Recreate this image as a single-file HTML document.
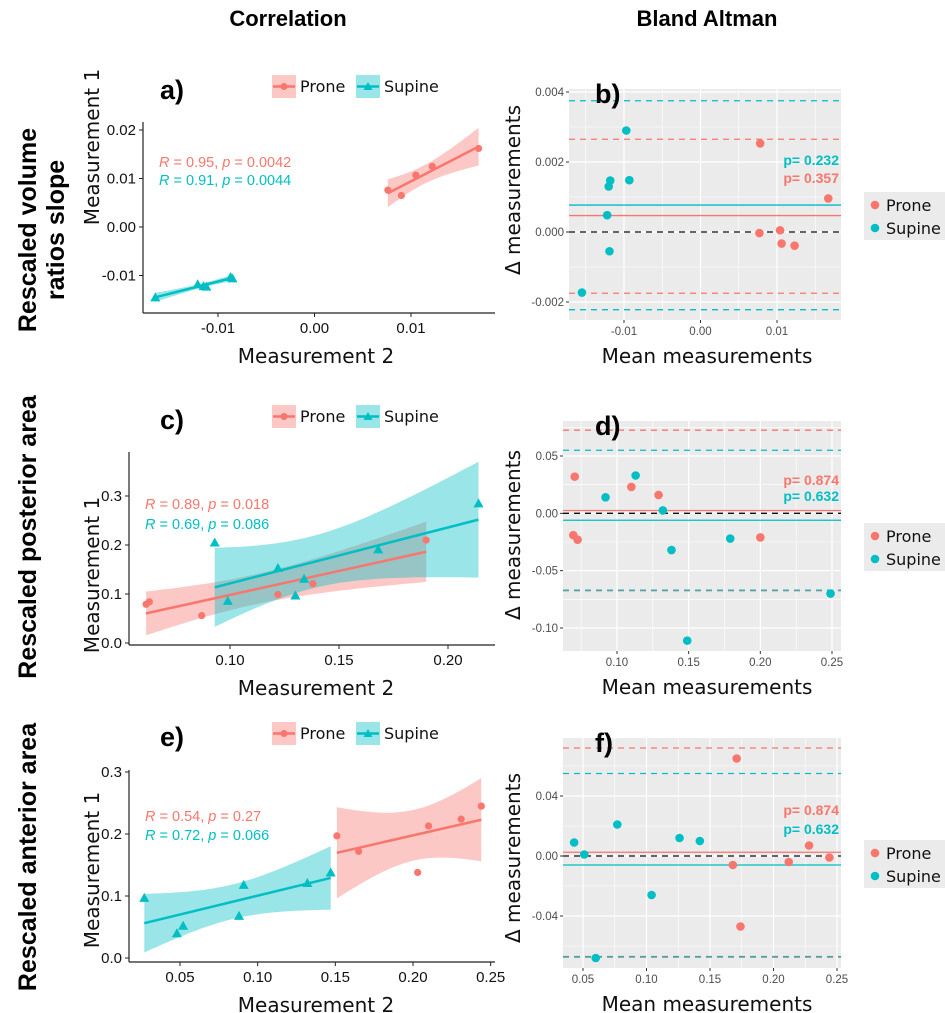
<!DOCTYPE html>
<html><head><meta charset="utf-8"><style>
html,body{margin:0;padding:0;background:#fff}
svg{display:block;font-family:"Liberation Sans","DejaVu Sans",sans-serif}
.dv{font-family:"DejaVu Sans","Liberation Sans",sans-serif}
</style></head><body>
<svg id="fig" width="945" height="1013" viewBox="0 0 945 1013" xmlns="http://www.w3.org/2000/svg">
<text x="288" y="26" font-size="22" font-weight="bold" text-anchor="middle">Correlation</text>
<text x="707" y="26" font-size="22" font-weight="bold" text-anchor="middle">Bland Altman</text>
<text transform="translate(36,230) rotate(-90)" font-size="25" font-weight="bold" text-anchor="middle">Rescaled volume</text>
<text transform="translate(64,230) rotate(-90)" font-size="25" font-weight="bold" text-anchor="middle">ratios slope</text>
<text transform="translate(36,537) rotate(-90)" font-size="25" font-weight="bold" text-anchor="middle">Rescaled posterior area</text>
<text transform="translate(36,857) rotate(-90)" font-size="25" font-weight="bold" text-anchor="middle">Rescaled anterior area</text>
</svg>
<script>
// ---------- DATA ----------
const aProneX=[0.0076,0.0090,0.0105,0.0122,0.0170];
const aProneY=[0.0076,0.0065,0.0107,0.0125,0.0162];
const aSupX=[-0.0165,-0.0121,-0.0115,-0.0112,-0.0087,-0.0085];
const aSupY=[-0.0145,-0.0118,-0.0122,-0.0123,-0.0103,-0.0106];
const cProneX=[0.0615,0.063,0.087,0.122,0.138,0.190];
const cProneY=[0.079,0.084,0.056,0.099,0.121,0.210];
const cSupX=[0.093,0.099,0.122,0.130,0.134,0.168,0.214];
const cSupY=[0.205,0.086,0.153,0.097,0.131,0.191,0.285];
const eProneX=[0.151,0.165,0.203,0.210,0.231,0.244];
const eProneY=[0.197,0.172,0.138,0.213,0.224,0.245];
const eSupX=[0.027,0.048,0.052,0.088,0.091,0.132,0.147];
const eSupY=[0.097,0.040,0.052,0.068,0.118,0.121,0.138];
const bProneX=[0.0077,0.0078,0.0104,0.0106,0.0123,0.0167];
const bProneY=[-0.00003,0.00253,0.00005,-0.00033,-0.00039,0.00096];
const bSupX=[-0.0155,-0.0122,-0.0119,-0.0120,-0.0118,-0.0097,-0.0093];
const bSupY=[-0.00173,0.00048,-0.00055,0.00130,0.00147,0.00290,0.00148];
const bLines=[0.00375,0.00265,0.00077,0.00047,-0.00175,-0.00222];
const dProneX=[0.0705,0.0695,0.0725,0.110,0.129,0.200];
const dProneY=[0.032,-0.019,-0.023,0.023,0.016,-0.021];
const dSupX=[0.092,0.113,0.132,0.138,0.149,0.179,0.249];
const dSupY=[0.014,0.033,0.0025,-0.032,-0.111,-0.022,-0.070];
const dLines=[0.0725,0.055,0.0025,-0.006,-0.0675,-0.067];
const fProneX=[0.171,0.168,0.174,0.212,0.228,0.244];
const fProneY=[0.065,-0.006,-0.047,-0.004,0.007,-0.001];
const fSupX=[0.043,0.051,0.060,0.077,0.104,0.126,0.142];
const fSupY=[0.009,0.001,-0.068,0.021,-0.026,0.012,0.010];
const fLines=[0.072,0.055,0.0025,-0.006,-0.0675,-0.067];
const aXTicks=[-0.01,0,0.01], aXLab=["-0.01","0.00","0.01"];
const aYTicks=[-0.01,0,0.01,0.02], aYLab=["-0.01","0.00","0.01","0.02"];
const cXTicks=[0.10,0.15,0.20], cXLab=["0.10","0.15","0.20"];
const cYTicks=[0,0.1,0.2,0.3], cYLab=["0.0","0.1","0.2","0.3"];
const eXTicks=[0.05,0.10,0.15,0.20,0.25], eXLab=["0.05","0.10","0.15","0.20","0.25"];
const eYTicks=[0,0.1,0.2,0.3], eYLab=["0.0","0.1","0.2","0.3"];
const bXTicks=[-0.01,0,0.01], bXLab=["-0.01","0.00","0.01"];
const bYTicks=[-0.002,0,0.002,0.004], bYLab=["-0.002","0.000","0.002","0.004"];
const dXTicks=[0.10,0.15,0.20,0.25], dXLab=["0.10","0.15","0.20","0.25"];
const dYTicks=[-0.10,-0.05,0,0.05], dYLab=["-0.10","-0.05","0.00","0.05"];
const fXTicks=[0.05,0.10,0.15,0.20,0.25], fXLab=["0.05","0.10","0.15","0.20","0.25"];
const fYTicks=[-0.04,0,0.04], fYLab=["-0.04","0.00","0.04"];

const RED="#F8766D", CY="#00BFC4";
const svg=document.getElementById('fig');
const NS="http://www.w3.org/2000/svg";
function mk(tag,attrs,parent){const e=document.createElementNS(NS,tag);for(const k in attrs)e.setAttribute(k,attrs[k]);(parent||svg).appendChild(e);return e;}
function lin(d0,d1,p0,p1){return v=>p0+(v-d0)*(p1-p0)/(d1-d0);}
function tval(df){return [0,12.706,4.303,3.182,2.776,2.571,2.447,2.365][df]||2.3;}
function fit(X,Y){const n=X.length;const mx=X.reduce((a,b)=>a+b)/n,my=Y.reduce((a,b)=>a+b)/n;let sxx=0,sxy=0;for(let i=0;i<n;i++){sxx+=(X[i]-mx)**2;sxy+=(X[i]-mx)*(Y[i]-my);}const b=sxy/sxx,a=my-b*mx;let sse=0;for(let i=0;i<n;i++)sse+=(Y[i]-a-b*X[i])**2;const s=Math.sqrt(sse/(n-2));return{a,b,mx,sxx,s,n,t:tval(n-2)};}

function corrPanel(id,xs,ys,box,xT,xL,yT,yL,series,ann,ylabY){
  const g=mk('g',{});
  
  
  series.forEach(s=>{
    const f=fit(s.x,s.y);const x0=Math.min(...s.x),x1=Math.max(...s.x);const N=40;let up=[],lo=[];
    for(let i=0;i<=N;i++){const x=x0+(x1-x0)*i/N;const yh=f.a+f.b*x;const se=f.s*Math.sqrt(1/f.n+(x-f.mx)**2/f.sxx);up.push(xs(x).toFixed(1)+','+ys(yh+f.t*se).toFixed(1));lo.unshift(xs(x).toFixed(1)+','+ys(yh-f.t*se).toFixed(1));}
    const band=mk('polygon',{points:up.concat(lo).join(' '),fill:s.c,'fill-opacity':0.4},g);
    
    
  });
  series.forEach(s=>{
    const f=fit(s.x,s.y);const x0=Math.min(...s.x),x1=Math.max(...s.x);
    const ln=mk('line',{x1:xs(x0),y1:ys(f.a+f.b*x0),x2:xs(x1),y2:ys(f.a+f.b*x1),stroke:s.c,'stroke-width':2.5},g);
    
    
    s.x.forEach((v,i)=>{let m;const px=xs(v),py=ys(s.y[i]);
      if(s.tri){m=mk('polygon',{points:`${px},${py-5} ${px-5},${py+4} ${px+5},${py+4}`,fill:s.c},g);}
      else{m=mk('circle',{cx:px,cy:py,r:3.6,fill:s.c},g);}
      
      
    });
  });
  mk('line',{x1:box.l,y1:box.t,x2:box.l,y2:box.b,stroke:'#222','stroke-width':1.2},g);
  mk('line',{x1:box.l,y1:box.b,x2:box.r,y2:box.b,stroke:'#222','stroke-width':1.2},g);
  xT.forEach((v,i)=>{mk('line',{x1:xs(v),y1:box.b,x2:xs(v),y2:box.b+4,stroke:'#222'},g);const t=mk('text',{x:xs(v),y:box.b+20,'font-size':15,'text-anchor':'middle',fill:'#111'},g);t.textContent=xL[i];});
  yT.forEach((v,i)=>{mk('line',{x1:box.l-4,y1:ys(v),x2:box.l,y2:ys(v),stroke:'#222'},g);const t=mk('text',{x:box.l-7,y:ys(v)+5,'font-size':15,'text-anchor':'end',fill:'#111'},g);t.textContent=yL[i];});
  const xt=mk('text',{x:316,y:box.b+50,'font-size':20,'text-anchor':'middle',fill:'#111',class:'dv'},g);xt.textContent='Measurement 2';
  
  const yt=mk('text',{transform:`translate(99,${ylabY}) rotate(-90)`,'font-size':20,'text-anchor':'middle',fill:'#111',class:'dv'},g);yt.textContent='Measurement 1';
  
  ann.forEach(a=>{const t=mk('text',{x:a.x,y:a.y,'font-size':14.5,fill:a.c},g);t.innerHTML=`<tspan font-style="italic">R</tspan> = ${a.r}, <tspan font-style="italic">p</tspan> = ${a.p}`;});
  const ly=box.legY;
  const lg=mk('g',{},g);
  mk('rect',{x:272,y:ly,width:24,height:23,fill:RED,'fill-opacity':0.4},lg);
  mk('line',{x1:273,y1:ly+11.5,x2:295,y2:ly+11.5,stroke:RED,'stroke-width':2.5},lg);
  mk('circle',{cx:284,cy:ly+11.5,r:3.5,fill:RED},lg);
  const t1=mk('text',{x:300,y:ly+17,'font-size':16,fill:'#111',class:'dv'},lg);t1.textContent='Prone';
  mk('rect',{x:356,y:ly,width:24,height:23,fill:CY,'fill-opacity':0.4},lg);
  mk('line',{x1:357,y1:ly+11.5,x2:379,y2:ly+11.5,stroke:CY,'stroke-width':2.5},lg);
  mk('polygon',{points:`368,${ly+7} 363.5,${ly+15} 372.5,${ly+15}`,fill:CY},lg);
  const t2=mk('text',{x:384,y:ly+17,'font-size':16,fill:'#111',class:'dv'},lg);t2.textContent='Supine';
  const pl=mk('text',{x:160,y:ly+24,'font-size':27,'font-weight':'bold',fill:'#000'},g);pl.textContent=id+')';
  
}

function baPanel(id,xs,ys,box,xT,xL,yT,yL,series,lines,pvals,legY,ylabY){
  const g=mk('g',{});
  
  
  mk('rect',{x:box.l,y:box.t,width:box.r-box.l,height:box.b-box.t,fill:'#EBEBEB'},g);
  const minor=(T)=>{const r=[];for(let i=0;i<T.length-1;i++)r.push((T[i]+T[i+1])/2);const d=T[1]-T[0];r.push(T[0]-d/2,T[T.length-1]+d/2);return r;};
  minor(xT).forEach(v=>{const p=xs(v);if(p>box.l&&p<box.r)mk('line',{x1:p,y1:box.t,x2:p,y2:box.b,stroke:'#fff','stroke-width':0.6},g);});
  minor(yT).forEach(v=>{const p=ys(v);if(p>box.t&&p<box.b)mk('line',{x1:box.l,y1:p,x2:box.r,y2:p,stroke:'#fff','stroke-width':0.6},g);});
  xT.forEach(v=>mk('line',{x1:xs(v),y1:box.t,x2:xs(v),y2:box.b,stroke:'#fff','stroke-width':1.2},g));
  yT.forEach(v=>mk('line',{x1:box.l,y1:ys(v),x2:box.r,y2:ys(v),stroke:'#fff','stroke-width':1.2},g));
  lines.forEach((v,i)=>{const ln=mk('line',{x1:box.l,y1:ys(v.v),x2:box.r,y2:ys(v.v),stroke:v.c,'stroke-width':1.3,'stroke-dasharray':v.d?'6,5':'none'},g);
    });
  const zl=mk('line',{x1:box.l,y1:ys(0),x2:box.r,y2:ys(0),stroke:'#111','stroke-width':1.3,'stroke-dasharray':'6,5'},g);
  
  series.forEach(s=>s.x.forEach((v,i)=>{const c=mk('circle',{cx:xs(v),cy:ys(s.y[i]),r:4.3,fill:s.c},g);
    }));
  xT.forEach((v,i)=>{mk('line',{x1:xs(v),y1:box.b,x2:xs(v),y2:box.b+3,stroke:'#333'},g);const t=mk('text',{x:xs(v),y:box.b+15,'font-size':11.5,'text-anchor':'middle',fill:'#4d4d4d'},g);t.textContent=xL[i];});
  yT.forEach((v,i)=>{mk('line',{x1:box.l-3,y1:ys(v),x2:box.l,y2:ys(v),stroke:'#333'},g);const t=mk('text',{x:box.l-5,y:ys(v)+4,'font-size':11.5,'text-anchor':'end',fill:'#4d4d4d'},g);t.textContent=yL[i];});
  pvals.forEach(p=>{const t=mk('text',{x:box.r-2,y:p.y,'font-size':14,'font-weight':'bold','text-anchor':'end',fill:p.c},g);t.textContent=p.t;});
  const xt=mk('text',{x:707,y:box.b+43,'font-size':20,'text-anchor':'middle',fill:'#111',class:'dv'},g);xt.textContent='Mean measurements';
  
  const yt=mk('text',{transform:`translate(520,${ylabY}) rotate(-90)`,'font-size':20,'text-anchor':'middle',fill:'#111',class:'dv'},g);yt.textContent='Δ measurements';
  
  const lg=mk('g',{},g);
  mk('rect',{x:864,y:legY,width:81,height:48,fill:'#EBEBEB'},lg);
  mk('circle',{cx:875,cy:legY+13,r:4.3,fill:RED},lg);
  mk('circle',{cx:875,cy:legY+36,r:4.3,fill:CY},lg);
  const a=mk('text',{x:886,y:legY+19,'font-size':16,fill:'#111',class:'dv'},lg);a.textContent='Prone';
  const b=mk('text',{x:886,y:legY+42,'font-size':16,fill:'#111',class:'dv'},lg);b.textContent='Supine';
  const pl=mk('text',{x:595,y:box.t+14,'font-size':27,'font-weight':'bold',fill:'#000'},g);pl.textContent=id+')';
  
}
function L(v,c,d,name){return{v,c,d,name};}

corrPanel('a',lin(-0.01,0.01,218,411),lin(0,0.02,227,130),{l:143,r:495,t:122,b:313,legY:75},aXTicks,aXLab,aYTicks,aYLab,
 [{name:'prone',x:aProneX,y:aProneY,c:RED},{name:'supine',x:aSupX,y:aSupY,c:CY,tri:true}],
 [{x:159,y:167,c:RED,r:'0.95',p:'0.0042'},{x:159,y:185,c:CY,r:'0.91',p:'0.0044'}],147);
corrPanel('c',lin(0.10,0.20,230,448),lin(0,0.3,643,496),{l:129,r:495,t:452,b:645,legY:405},cXTicks,cXLab,cYTicks,cYLab,
 [{name:'prone',x:cProneX,y:cProneY,c:RED},{name:'supine',x:cSupX,y:cSupY,c:CY,tri:true}],
 [{x:145,y:509,c:RED,r:'0.89',p:'0.018'},{x:145,y:529,c:CY,r:'0.69',p:'0.086'}],575);
corrPanel('e',lin(0.05,0.20,180,413),lin(0,0.3,958,772),{l:129,r:495,t:770,b:962,legY:722},eXTicks,eXLab,eYTicks,eYLab,
 [{name:'supine',x:eSupX,y:eSupY,c:CY,tri:true},{name:'prone',x:eProneX,y:eProneY,c:RED}],
 [{x:145,y:821,c:RED,r:'0.54',p:'0.27'},{x:145,y:840,c:CY,r:'0.72',p:'0.066'}],870);

baPanel('b',lin(-0.01,0.01,624,777),lin(-0.002,0.004,302,92),{l:569,r:841,t:89,b:320},bXTicks,bXLab,bYTicks,bYLab,
 [{name:'prone',x:bProneX,y:bProneY,c:RED},{name:'supine',x:bSupX,y:bSupY,c:CY}],
 [L(bLines[0],CY,1,'supine-upper-limit'),L(bLines[1],RED,1,'prone-upper-limit'),L(bLines[2],CY,0,'supine-mean-difference'),L(bLines[3],RED,0,'prone-mean-difference'),L(bLines[4],RED,1,'prone-lower-limit'),L(bLines[5],CY,1,'supine-lower-limit')],
 [{y:165,c:CY,t:'p= 0.232'},{y:183,c:RED,t:'p= 0.357'}],192,190);
baPanel('d',lin(0.10,0.25,617,832),lin(-0.10,0.05,628,456),{l:563,r:841,t:421,b:651},dXTicks,dXLab,dYTicks,dYLab,
 [{name:'prone',x:dProneX,y:dProneY,c:RED},{name:'supine',x:dSupX,y:dSupY,c:CY}],
 [L(dLines[0],RED,1,'prone-upper-limit'),L(dLines[1],CY,1,'supine-upper-limit'),L(dLines[2],RED,0,'prone-mean-difference'),L(dLines[3],CY,0,'supine-mean-difference'),L(dLines[4],RED,1,'prone-lower-limit'),L(dLines[5],CY,1,'supine-lower-limit')],
 [{y:485,c:RED,t:'p= 0.874'},{y:501,c:CY,t:'p= 0.632'}],523,535);
baPanel('f',lin(0.05,0.25,583,837),lin(-0.04,0.04,916,796),{l:563,r:841,t:738,b:968},fXTicks,fXLab,fYTicks,fYLab,
 [{name:'prone',x:fProneX,y:fProneY,c:RED},{name:'supine',x:fSupX,y:fSupY,c:CY}],
 [L(fLines[0],RED,1,'prone-upper-limit'),L(fLines[1],CY,1,'supine-upper-limit'),L(fLines[2],RED,0,'prone-mean-difference'),L(fLines[3],CY,0,'supine-mean-difference'),L(fLines[4],RED,1,'prone-lower-limit'),L(fLines[5],CY,1,'supine-lower-limit')],
 [{y:815,c:RED,t:'p= 0.874'},{y:834,c:CY,t:'p= 0.632'}],840,858);
</script>
</body></html>
